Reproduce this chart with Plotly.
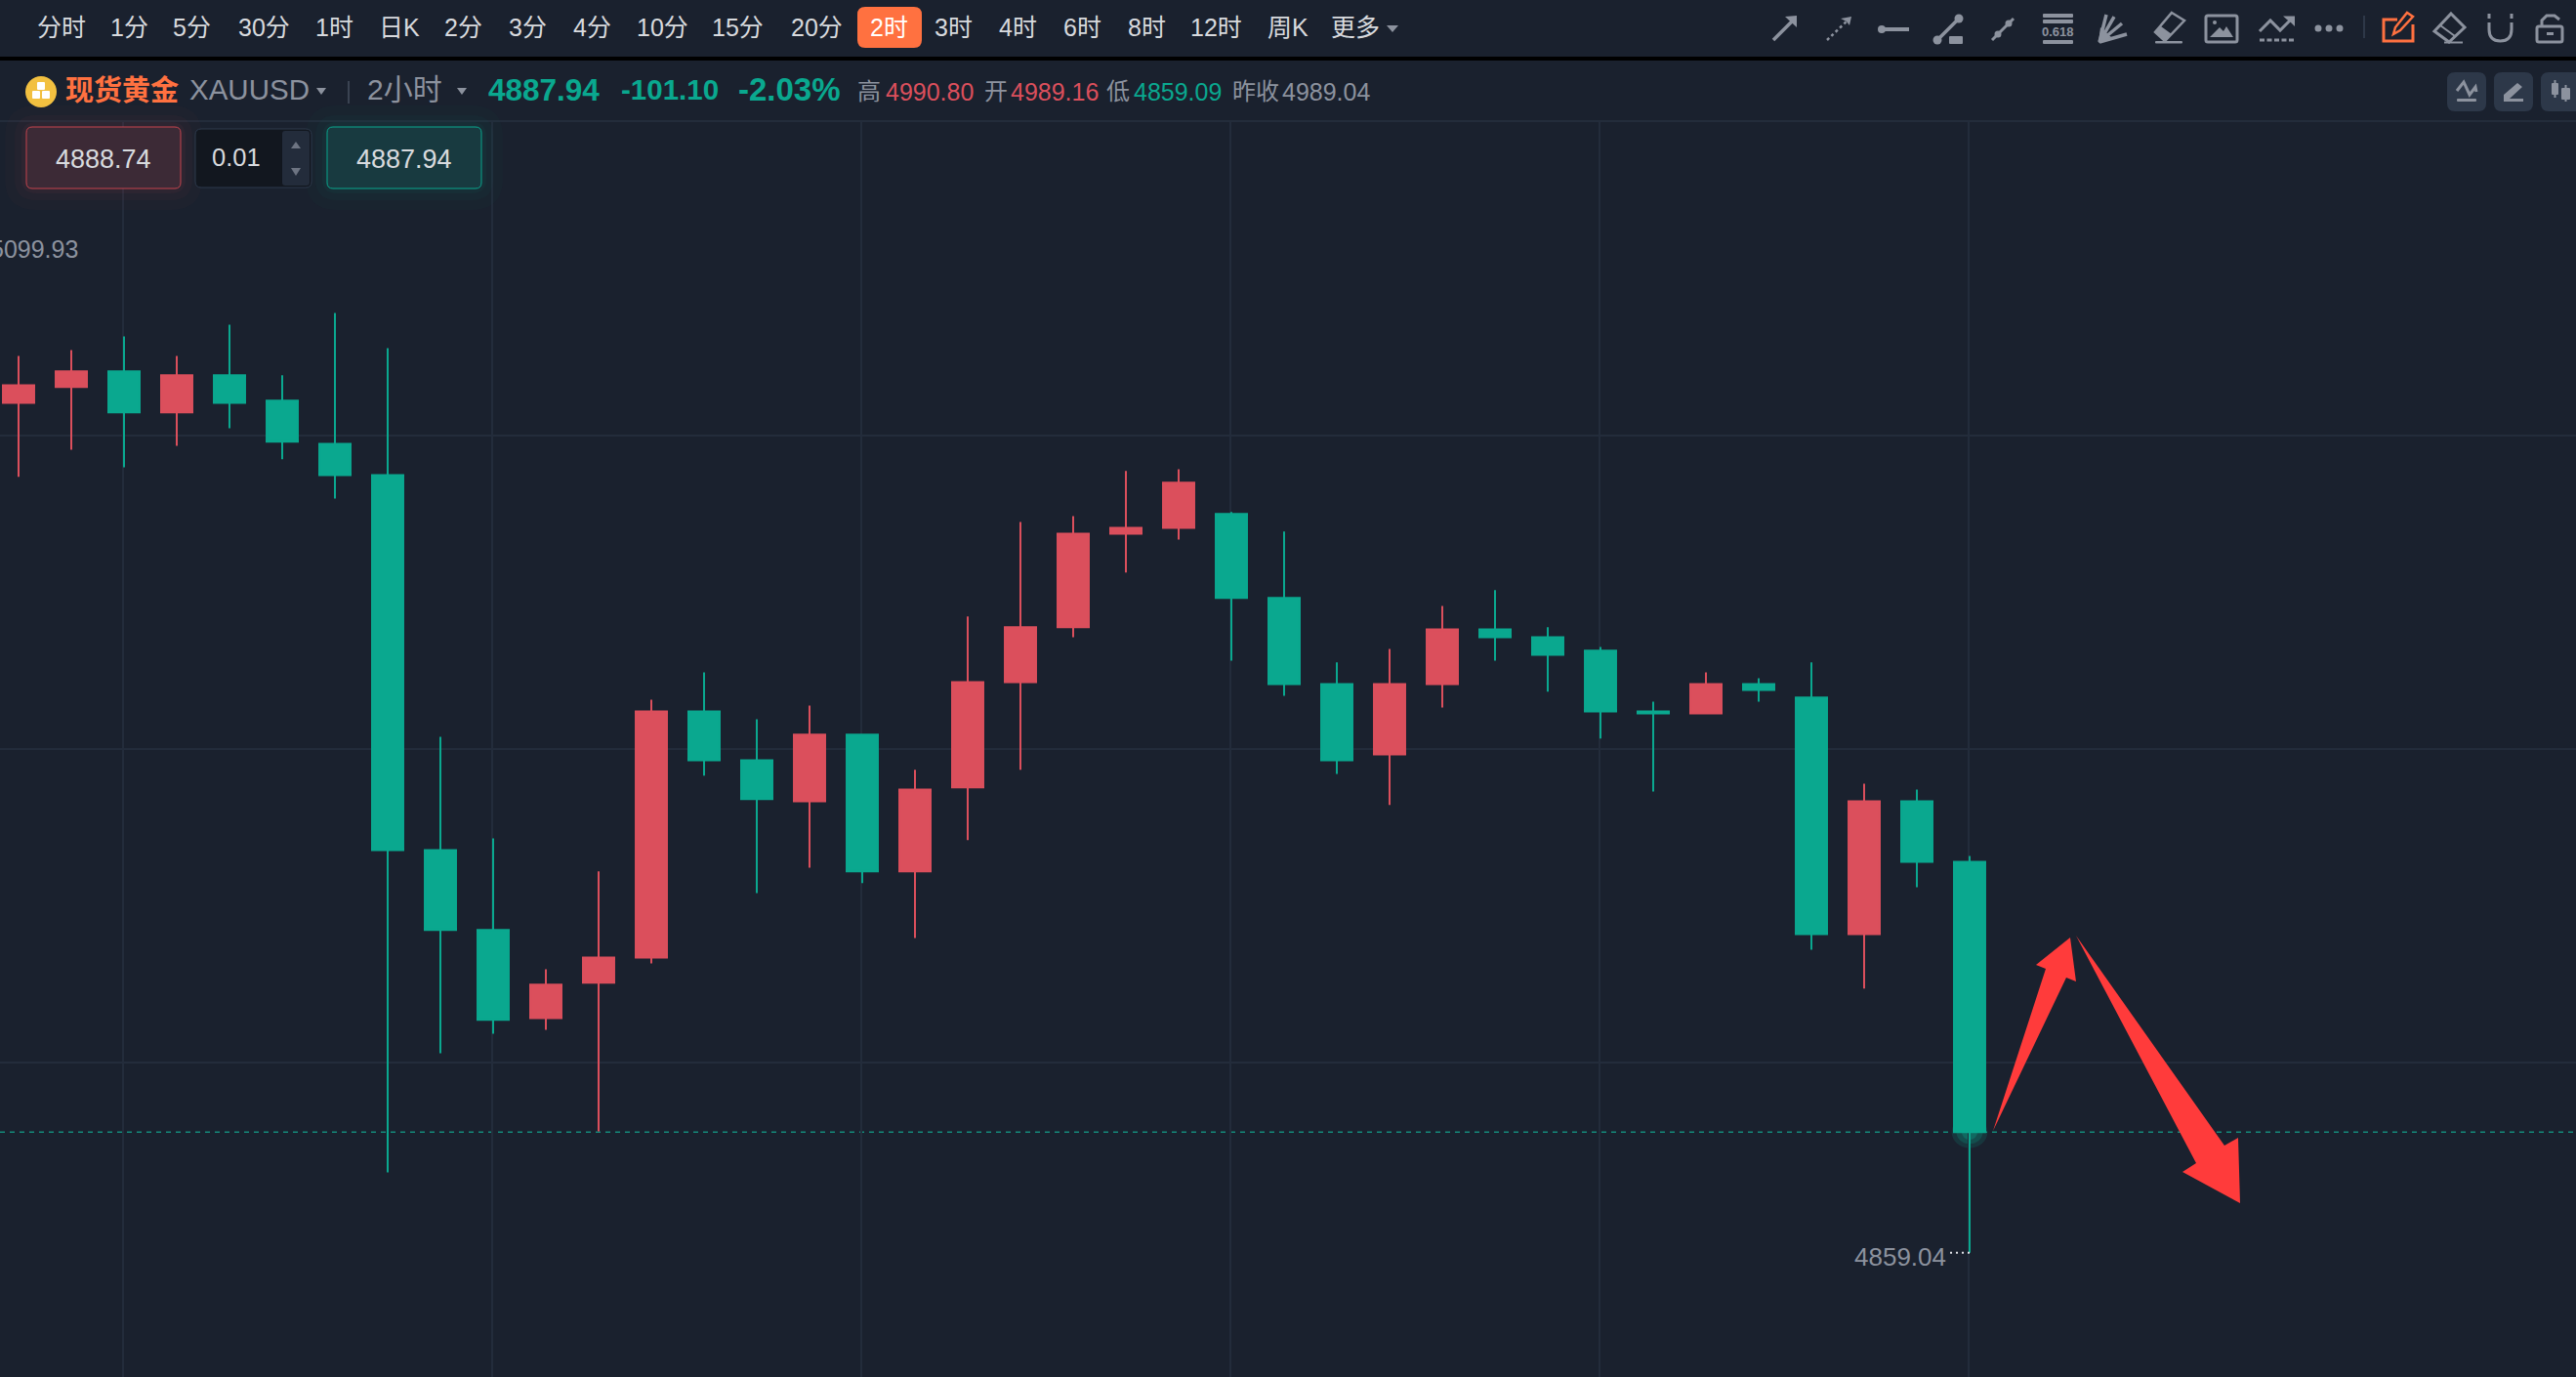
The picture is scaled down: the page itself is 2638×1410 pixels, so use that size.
import plotly.graph_objects as go

# ---------- data (prices) ----------
high_ = [5073.6,5075.0,5078.3,5073.6,5081.1,5069.0,5083.9,5075.5,4982.5,4958.2,4926.9,4950.3,4991.4,4997.9,4986.7,4990.0,4983.0,4974.6,5011.3,5033.9,5035.3,5046.1,5046.5,5036.3,5031.6,5000.3,5003.5,5013.8,5017.6,5008.7,5004.0,4990.9,4997.9,4996.5,5000.3,4971.3,4969.9,4954.0]
open_ = [5062.4,5066.2,5069.9,5060.1,5069.0,5062.9,5052.6,5045.1,4955.4,4936.3,4915.2,4923.7,4929.7,4988.6,4976.9,4967.1,4983.0,4950.3,4970.4,4995.6,5008.7,5031.1,5032.5,5035.8,5015.7,4995.1,4978.3,4995.1,5008.2,5006.3,5003.1,4988.6,4988.1,4995.1,4991.9,4935.3,4967.1,4952.6]
close_ = [5066.6,5069.9,5060.1,5069.0,5062.4,5053.1,5045.1,4955.4,4936.3,4914.8,4923.2,4929.7,4988.6,4976.9,4967.6,4983.0,4950.3,4969.9,4995.6,5008.7,5031.1,5032.5,5043.3,5015.7,4995.1,4976.9,4995.1,5008.2,5006.3,5002.1,4988.6,4988.1,4995.1,4993.7,4935.3,4967.1,4952.6,4887.94]
low_ = [5044.7,5051.2,5047.0,5052.1,5056.3,5048.9,5039.5,4878.3,4906.8,4911.5,4912.4,4888.1,4928.3,4973.2,4945.1,4951.2,4947.5,4934.4,4957.8,4974.6,5006.3,5021.8,5029.7,5000.7,4992.3,4973.6,4966.2,4989.5,5000.7,4993.3,4982.1,4969.4,4988.1,4990.9,4931.6,4922.3,4946.5,4859.09]
candle_index = list(range(38))
period_labels = ["分时","1分","5分","30分","1时","日K","2分","3分","4分","10分","15分","20分","2时","3时","4时","6时","8时","12时","周K","更多"]
period_centers = [63,132,196,270,342,409,474,540,606,678,755,836,910,976,1042,1108,1174,1245,1319,1388]
grid_prices = [4904.5, 4979.5, 5054.5]
grid_candles = [2, 9, 16, 23, 30, 37]
last_price = 4887.94
low_label = "4859.04"

W, H = 2638, 1410
BG = "#1a212e"; GRID = "#232c3b"; RED = "#db4f5c"; GREEN = "#0aa88f"; ORANGE = "#ff7140"
GRAY = "#8c929e"; ARROW = "#ff3b3b"; TXT = "#d8dade"
FONT = "Liberation Sans, Noto Sans CJK SC, sans-serif"

def X(p): return p / W
def Y(p): return 1 - p / H

shapes, annos = [], []

def T(text, x, y, size, color, anchor="left", bold=False):
    annos.append(dict(text=f"<b>{text}</b>" if bold else text, x=X(x), y=Y(y), xref="paper", yref="paper",
                      xanchor=anchor, yanchor="middle", showarrow=False, borderpad=0,
                      font=dict(family=FONT, size=size, color=color)))

def path(d, fill=None, line=None, width=0, layer="above"):
    shapes.append(dict(type="path", path=d, xref="paper", yref="paper", layer=layer,
                       fillcolor=fill or "rgba(0,0,0,0)",
                       line=dict(color=line or "rgba(0,0,0,0)", width=width)))

def poly(pts, fill, line=None, width=0):
    d = "M" + " L".join(f"{X(a):.5f},{Y(b):.5f}" for a, b in pts) + " Z"
    path(d, fill=fill, line=line, width=width)

def pline(pts, color, width=3, dash=None):
    d = "M" + " L".join(f"{X(a):.5f},{Y(b):.5f}" for a, b in pts)
    shapes.append(dict(type="path", path=d, xref="paper", yref="paper", layer="above",
                       line=dict(color=color, width=width, dash=dash or "solid")))

def rrect(x0, y0, x1, y1, r, fill, line=None, width=0):
    P = lambda a, b: f"{X(a):.5f},{Y(b):.5f}"
    d = (f"M{P(x0+r,y0)} L{P(x1-r,y0)} Q{P(x1,y0)} {P(x1,y0+r)} L{P(x1,y1-r)} Q{P(x1,y1)} {P(x1-r,y1)} "
         f"L{P(x0+r,y1)} Q{P(x0,y1)} {P(x0,y1-r)} L{P(x0,y0+r)} Q{P(x0,y0)} {P(x0+r,y0)} Z")
    path(d, fill=fill, line=line, width=width)

def circ(cx, cy, r, fill):
    shapes.append(dict(type="circle", xref="paper", yref="paper", layer="above",
                       x0=X(cx-r), x1=X(cx+r), y0=Y(cy+r), y1=Y(cy-r),
                       fillcolor=fill, line=dict(width=0)))

# ---------- panels ----------
rrect(-4, 58, W+4, 62, 0, "#000000")
rrect(-4, 123, W+4, 125, 0, GRID)

# ---------- toolbar ----------
rrect(878, 7, 944, 49, 8, ORANGE)
for lab, cx in zip(period_labels, period_centers):
    T(lab, cx, 28, 25, "#ffffff" if lab == "2时" else TXT, anchor="center")
poly([(1420, 26), (1432, 26), (1426, 33)], GRAY)

# ---------- drawing-tool icons ----------
pline([(1816, 41), (1838, 19)], GRAY, 3.5)
poly([(1828, 17), (1840, 16), (1840, 28)], GRAY)
pline([(1871, 41), (1892, 21)], GRAY, 2.5, "3px,3px")
poly([(1885, 19), (1896, 17), (1894, 26), (1891, 22)], GRAY)
pline([(1927, 30), (1955, 30)], GRAY, 4)
circ(1927, 30, 4, GRAY)
pline([(1984, 41), (2006, 19)], GRAY, 3.5)
circ(1984, 41, 4.5, GRAY); circ(2006, 19, 4.5, GRAY)
rrect(1996, 37, 2010, 45, 1, GRAY)
pline([(2040, 41), (2062, 19)], GRAY, 3)
circ(2046, 35, 3.5, GRAY); circ(2057, 24, 3.5, GRAY)
for yy in (16, 22, 43):
    rrect(2092, yy-2, 2123, yy+2, 1, GRAY)
T("0.618", 2107.5, 33, 13, GRAY, anchor="center", bold=True)
for tip in [(2157, 15), (2165, 17), (2173, 24), (2178, 35)]:
    pline([(2150, 43), tip], GRAY, 3.5)
poly([(2149, 44), (2151, 28), (2162, 38)], GRAY)
poly([(2224, 13), (2237, 21), (2217, 42), (2207, 33)], "rgba(0,0,0,0)", GRAY, 2.5)
poly([(2213, 27), (2224, 35), (2217, 42), (2207, 33)], GRAY)
rrect(2207, 42, 2235, 44.5, 1, GRAY)
rrect(2259, 16, 2291, 43, 2, "rgba(0,0,0,0)", GRAY, 3)
poly([(2263, 38), (2273, 28), (2277, 32), (2280, 27), (2287, 38)], GRAY)
circ(2268, 23, 2, GRAY)
pline([(2314, 32), (2325, 21), (2335, 31), (2347, 19)], GRAY, 3)
poly([(2338, 16.5), (2350, 16.5), (2350, 27), (2346, 23), (2342, 20)], GRAY)
pline([(2314, 41), (2350, 41)], GRAY, 3, "5px,2.5px")
for cx in (2374, 2385, 2396):
    circ(cx, 29, 3.5, GRAY)
pline([(2421, 16), (2421, 39)], "#2e3848", 2)
pline([(2455, 20), (2441, 20), (2441, 42), (2471, 42), (2471, 25)], ORANGE, 3)
poly([(2451, 35), (2453, 28), (2465, 13), (2471, 17), (2458, 31)], BG, ORANGE, 2.5)
poly([(2510, 14), (2524, 28), (2508, 43), (2493, 32)], "rgba(0,0,0,0)", GRAY, 3)
pline([(2499, 26), (2514, 37)], GRAY, 2)
pline([(2503, 43.5), (2522, 43.5)], GRAY, 2)
pline([(2549, 14), (2549, 19)], GRAY, 3); pline([(2572, 14), (2572, 19)], GRAY, 3)
d = f"M{X(2549):.5f},{Y(23):.5f} L{X(2549):.5f},{Y(30):.5f} Q{X(2549):.5f},{Y(42):.5f} {X(2560.5):.5f},{Y(42):.5f} Q{X(2572):.5f},{Y(42):.5f} {X(2572):.5f},{Y(30):.5f} L{X(2572):.5f},{Y(23):.5f}"
shapes.append(dict(type="path", path=d, xref="paper", yref="paper", layer="above", line=dict(color=GRAY, width=3)))
rrect(2598, 27, 2624, 43, 2, "rgba(0,0,0,0)", GRAY, 3)
rrect(2608, 33, 2615, 36, 0, GRAY)
pline([(2603, 27), (2603, 21), (2608, 16), (2616, 16), (2621, 20)], GRAY, 3)

# ---------- header ----------
circ(42, 94, 16, "#f2c040")
rrect(38, 84, 46, 92, 1, "#ffffff"); rrect(33, 93, 41, 101, 1, "#ffffff"); rrect(43, 93, 51, 101, 1, "#ffffff")
T("现货黄金", 66, 93, 29, ORANGE, bold=True)
T("XAUUSD", 193, 92, 29.5, GRAY)
poly([(324, 90), (334, 90), (329, 97)], GRAY)
pline([(357, 83), (357, 106)], "#3a4352", 2)
T("2小时", 375, 92, 30, GRAY)
poly([(468, 90), (478, 90), (473, 97)], GRAY)
T("4887.94", 499, 92, 31.5, GREEN, bold=True)
T("-101.10", 635, 92, 29.5, GREEN, bold=True)
T("-2.03%", 755, 92, 33, GREEN, bold=True)
T("高", 877, 94, 24, GRAY)
T("4990.80", 906, 94, 25, RED)
T("开", 1007, 94, 24, GRAY)
T("4989.16", 1034, 94, 25, RED)
T("低", 1132, 94, 24, GRAY)
T("4859.09", 1160, 94, 25, GREEN)
T("昨收", 1261, 94, 24, GRAY)
T("4989.04", 1312, 94, 25, GRAY)
for x0, x1 in ((2506, 2546), (2554, 2594), (2602, 2650)):
    rrect(x0, 74, x1, 114, 8, "#2d3849")
pline([(2516, 93), (2523, 84), (2529, 97), (2535, 89), (2536, 94)], GRAY, 3)
rrect(2516, 101, 2536, 104, 1, GRAY)
poly([(2564, 97), (2578, 85), (2583, 89), (2570, 101), (2584, 101), (2584, 104), (2564, 104)], GRAY)
pline([(2616.5, 82), (2616.5, 100)], GRAY, 2); rrect(2613, 85, 2620, 97, 1, GRAY)
pline([(2627.5, 87), (2627.5, 104)], GRAY, 2); rrect(2623, 90, 2632, 102, 1, GRAY)

# ---------- order boxes ----------
for grow, op in ((22, 0.025), (12, 0.035), (5, 0.05)):
    rrect(27-grow, 130-grow, 185+grow, 193+grow, 10+grow, f"rgba(219,79,92,{op})")
    rrect(335-grow, 130-grow, 493+grow, 193+grow, 10+grow, f"rgba(10,168,143,{op})")
rrect(27, 130, 185, 193, 6, "#3c2a36", "#c6454f", 1)
T("4888.74", 106, 163, 27, TXT, anchor="center")
rrect(200, 132, 319, 192, 6, "#12171f", "#2e3a4d", 1)
rrect(289, 134, 317, 190, 3, "#232c3b")
T("0.01", 216, 161, 25.5, TXT)
poly([(298, 152), (308, 152), (303, 145)], "#6d7482")
poly([(298, 172), (308, 172), (303, 180)], "#6d7482")
rrect(335, 130, 493, 193, 6, "#183a40", GREEN, 1)
T("4887.94", 414, 163, 27, TXT, anchor="center")
T("5099.93", -11, 255, 25, GRAY)

# ---------- hand-drawn arrows ----------
poly([(2041, 1158), (2095, 992), (2085, 988), (2120, 960), (2126, 1005), (2116, 1001)], ARROW)
poly([(2126, 958), (2278, 1173), (2292, 1165), (2294, 1232), (2235, 1200), (2249, 1191)], ARROW)

# ---------- plot-anchored furniture ----------
last_i = candle_index[-1]
shapes.append(dict(type="line", xref="paper", yref="y", x0=0, x1=1, y0=last_price, y1=last_price, layer="below",
                   line=dict(color="#14897a", width=1.5, dash="5px,5px")))
for rx, ry, op in ((0.34, 3.8, 0.16), (0.25, 2.8, 0.22), (0.15, 1.8, 0.3)):
    shapes.append(dict(type="circle", xref="x", yref="y", x0=last_i-rx, x1=last_i+rx,
                       y0=last_price-ry, y1=last_price+ry, layer="below",
                       fillcolor=GREEN, opacity=op, line=dict(width=0)))
shapes.append(dict(type="line", xref="x", yref="y", x0=last_i-0.37, x1=last_i, y0=low_[-1], y1=low_[-1], layer="above",
                   line=dict(color="#e0e2e6", width=2, dash="2px,4px")))
annos.append(dict(text=low_label, x=last_i-0.43, y=low_[-1]-1.0, xref="x", yref="y", xanchor="right", yanchor="middle",
                  showarrow=False, borderpad=0, font=dict(family=FONT, size=26, color=GRAY)))

fig = go.Figure(go.Candlestick(
    x=candle_index, open=open_, high=high_, low=low_, close=close_,
    increasing=dict(line=dict(color=RED, width=2), fillcolor=RED),
    decreasing=dict(line=dict(color=GREEN, width=2), fillcolor=GREEN),
    whiskerwidth=0, hoverinfo="skip", showlegend=False))

def p(y): return 4904.5 + (1088 - y) * 0.2336
fig.update_layout(
    width=W, height=H, margin=dict(l=0, r=0, t=0, b=0), autosize=False,
    paper_bgcolor=BG, plot_bgcolor=BG, showlegend=False, boxgap=0.408, boxgroupgap=0,
    font=dict(family=FONT),
    xaxis=dict(domain=[0, 1], range=[(0-19)/54, (W-19)/54], rangeslider=dict(visible=False),
               tickmode="array", tickvals=[g - 1/54 for g in grid_candles], showticklabels=False, ticks="",
               showgrid=True, gridcolor=GRID, gridwidth=2, zeroline=False, showline=False, fixedrange=True),
    yaxis=dict(domain=[0, 1 - 125/H], range=[p(H-0.4), p(124.6)],
               tickmode="array", tickvals=grid_prices, showticklabels=False, ticks="",
               showgrid=True, gridcolor=GRID, gridwidth=2, zeroline=False, showline=False, fixedrange=True),
    shapes=shapes, annotations=annos)

fig.write_html("out.html", config=dict(displayModeBar=False),
               post_script="document.body.style.margin='0';document.documentElement.style.overflow='hidden';")
